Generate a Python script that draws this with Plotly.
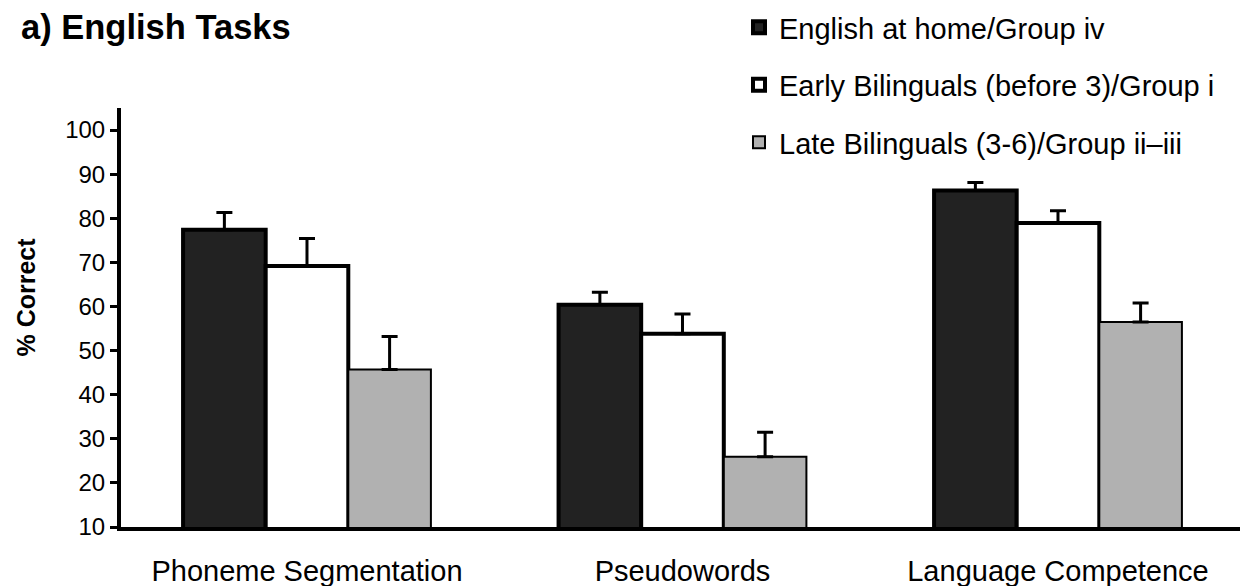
import plotly.graph_objects as go

categories = ["Phoneme Segmentation", "Pseudowords", "Language Competence"]
series_names = ["English at home/Group iv",
                "Early Bilinguals (before 3)/Group i",
                "Late Bilinguals (3-6)/Group ii\u2013iii"]
english_home = [77.4, 60.4, 86.3]
early_bilinguals = [69.2, 53.8, 78.9]
late_bilinguals = [45.7, 25.9, 56.5]
english_home_err = [3.9, 2.8, 1.8]
early_bilinguals_err = [6.2, 4.5, 2.8]
late_bilinguals_err = [7.5, 5.6, 4.3]
y_ticks = [10, 20, 30, 40, 50, 60, 70, 80, 90, 100]

FONT = "Liberation Sans, Arial, sans-serif"
fills = ["#222222", "#ffffff", "#b1b1b1"]
borders = [4, 4, 2]
values = [english_home, early_bilinguals, late_bilinguals]
errors = [english_home_err, early_bilinguals_err, late_bilinguals_err]
legend_ids = ["legend", "legend2", "legend3"]
legend_y = [27.5, 85, 142.5]

W, H = 1240, 586
ML, MR, MT, MB = 121, 0, 108, 59
PW, PH = W - ML - MR, H - MT - MB

fig = go.Figure()
for i in range(3):
    fig.add_trace(go.Bar(
        x=categories, y=values[i], name=series_names[i],
        marker=dict(color=fills[i], line=dict(color="black", width=borders[i])),
        error_y=dict(type="data", symmetric=False, array=errors[i],
                     arrayminus=[0, 0, 0], color="black", thickness=3, width=8),
        legend=legend_ids[i], showlegend=True,
    ))

leg_common = dict(font=dict(family=FONT, size=29, color="black"),
                  xref="paper", yref="paper", xanchor="left",
                  yanchor="middle", bgcolor="rgba(0,0,0,0)", borderwidth=0,
                  visible=True)
layout_legends = {}
for i, lid in enumerate(legend_ids):
    layout_legends[lid] = dict(leg_common, x=(739 - ML) / PW, y=(H - MB - legend_y[i]) / PH)

fig.update_layout(
    width=W, height=H, showlegend=True,
    margin=dict(l=ML, r=MR, t=MT, b=MB, autoexpand=False),
    paper_bgcolor="white", plot_bgcolor="white",
    barmode="group", bargap=0.34, bargroupgap=0,
    font=dict(family=FONT, color="black"),
    title=dict(text="<b>a) English Tasks</b>", font=dict(family=FONT, size=34.5, color="black"),
               xref="container", yref="container", x=21 / W, xanchor="left",
               y=1 - 27 / H, yanchor="middle"),
    xaxis=dict(type="category", categoryorder="array", categoryarray=categories,
               range=[-0.4953, 2.4847], showline=True, linecolor="black", linewidth=4,
               ticks="", showgrid=False, zeroline=False, tickangle=0, automargin=False,
               tickfont=dict(family=FONT, size=29, color="black"),
               ticklabelstandoff=15),
    yaxis=dict(range=[10, 105], tickvals=y_ticks, ticks="outside", ticklen=7,
               tickwidth=3, tickcolor="black", showline=True, linecolor="black",
               linewidth=4, showgrid=False, zeroline=False, automargin=False,
               tickfont=dict(family=FONT, size=24, color="black")),
    annotations=[dict(text="<b>% Correct</b>", textangle=-90, xref="paper", yref="paper",
                      x=(25 - ML) / PW, y=(H - MB - 297.5) / PH, showarrow=False,
                      xanchor="center", yanchor="middle",
                      font=dict(family=FONT, size=25, color="black"))],
    **layout_legends,
)

fig.write_html("out.html", config={"displayModeBar": False},
               post_script="document.body.style.margin='0';")
